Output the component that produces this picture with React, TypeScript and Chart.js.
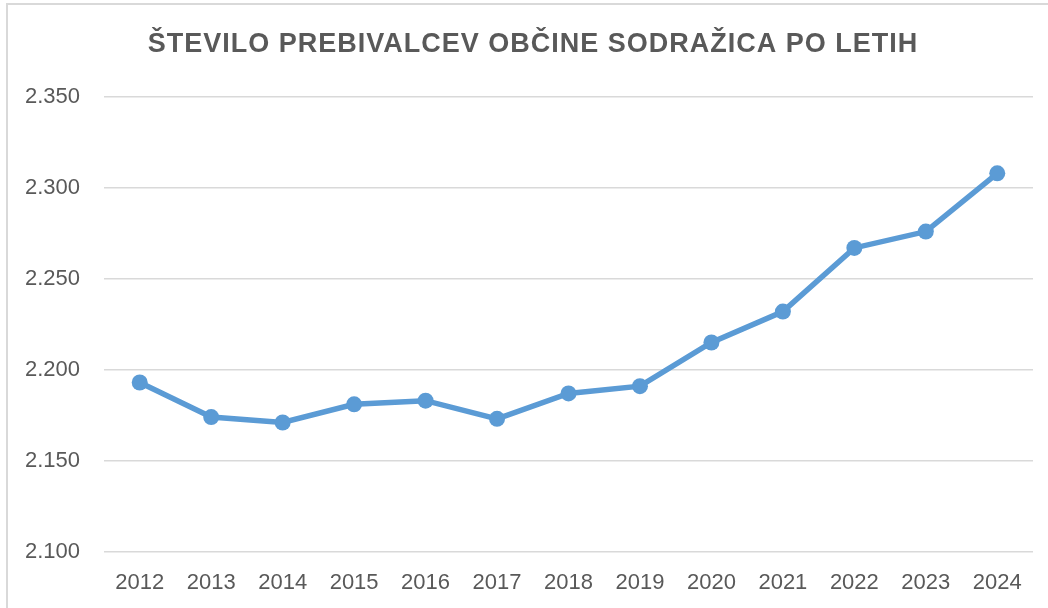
import React, { useEffect, useRef } from "react";
import { Chart, registerables } from "chart.js";

Chart.register(...registerables);

const years = ["2012", "2013", "2014", "2015", "2016", "2017", "2018", "2019", "2020", "2021", "2022", "2023", "2024"];
const population = [2193, 2174, 2171, 2181, 2183, 2173, 2187, 2191, 2215, 2232, 2267, 2276, 2308];
const titleText = "ŠTEVILO PREBIVALCEV OBČINE SODRAŽICA PO LETIH";
const yMin = 2100;
const yMax = 2350;
const yStep = 50;

const titlePlugin = {
  id: "customTitle",
  afterDraw(chart: any) {
    const ctx = chart.ctx as CanvasRenderingContext2D;
    ctx.save();
    ctx.font = "bold 27px 'Liberation Sans', Arial, sans-serif";
    (ctx as any).letterSpacing = "1px";
    ctx.fillStyle = "#595959";
    ctx.textAlign = "center";
    ctx.textBaseline = "alphabetic";
    ctx.fillText(titleText, 533, 52);
    ctx.restore();
  },
};

export default function App() {
  const ref = useRef<HTMLCanvasElement | null>(null);

  useEffect(() => {
    document.body.style.margin = "0";
    const canvas = ref.current;
    if (!canvas) return;
    const chart = new Chart(canvas, {
      type: "line",
      data: {
        labels: years,
        datasets: [
          {
            data: population,
            borderColor: "#5b9bd5",
            backgroundColor: "#5b9bd5",
            borderWidth: 5.5,
            pointRadius: 8,
            pointHoverRadius: 8,
            pointBorderWidth: 0,
            tension: 0,
          },
        ],
      },
      plugins: [titlePlugin],
      options: {
        responsive: false,
        animation: false,
        layout: { padding: { left: 0, right: 15, top: 97, bottom: 2 } },
        plugins: {
          legend: { display: false },
          tooltip: { enabled: false },
          title: { display: false },
        },
        scales: {
          x: {
            offset: true,
            grid: { display: false },
            border: { display: false },
            ticks: {
              color: "#595959",
              font: { family: "'Liberation Sans', Arial, sans-serif", size: 22 },
              padding: 10,
              maxRotation: 0,
            },
          },
          y: {
            min: yMin,
            max: yMax,
            afterFit: (s: any) => {
              s.width = 104;
            },
            grid: { color: "#d9d9d9", lineWidth: 1.5, drawTicks: false },
            border: { display: false },
            ticks: {
              stepSize: yStep,
              color: "#595959",
              font: { family: "'Liberation Sans', Arial, sans-serif", size: 22 },
              padding: 24,
              callback: (v: any) => {
                const n = Number(v);
                const s = String(n);
                return s.length > 3 ? s.slice(0, s.length - 3) + "." + s.slice(s.length - 3) : s;
              },
            },
          },
        },
      },
    });
    return () => chart.destroy();
  }, []);

  return (
    <div style={{ position: "relative", width: 1048, height: 608, overflow: "hidden", background: "#fff" }}>
      <canvas ref={ref} width={1048} height={608} style={{ position: "absolute", left: 0, top: 0 }} />
      <div
        style={{
          position: "absolute",
          left: 6,
          top: 3,
          width: 1200,
          height: 800,
          borderTop: "2px solid #d9d9d9",
          borderLeft: "2px solid #d9d9d9",
          pointerEvents: "none",
        }}
      />
    </div>
  );
}
